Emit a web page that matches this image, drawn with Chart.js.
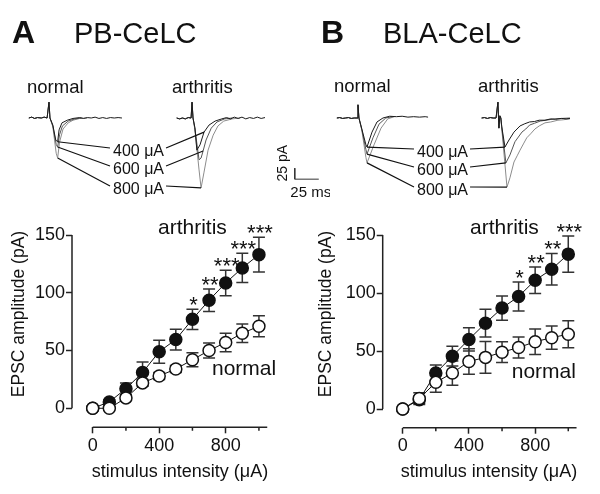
<!DOCTYPE html>
<html>
<head>
<meta charset="utf-8">
<script src="https://cdn.jsdelivr.net/npm/chart.js@4.4.0/dist/chart.umd.min.js"></script>
<style>
    body { margin: 0; background: #fff; }
    #fig { position: relative; width: 600px; height: 494px; overflow: hidden; }
    canvas { position: absolute; }
</style>
</head>
<body>
<div id="fig">
    <canvas id="tracesA" width="330" height="202" style="left:0;top:0"></canvas>
    <canvas id="tracesB" width="300" height="202" style="left:300px;top:0"></canvas>
    <canvas id="plotA" width="300" height="292" style="left:0;top:202px"></canvas>
    <canvas id="plotB" width="300" height="292" style="left:300px;top:202px"></canvas>
</div>
<script>
const FONT = '"Liberation Sans", Arial, Helvetica, sans-serif';

// stimulus intensities (uA) and EPSC amplitudes (pA), mean and SEM
const stimulus = [0, 100, 200, 300, 400, 500, 600, 700, 800, 900, 1000];
const normalMeanA = [0, 0, 9, 22, 28, 34, 42, 50, 57, 65, 71];
const normalSemA = [0, 1, 2, 3, 3, 3, 6, 6.5, 8, 8, 9];
const arthritisMeanA = [0, 5.5, 17, 31, 49, 59.5, 77, 93.5, 108.5, 121.5, 133];
const arthritisSemA = [0, 2, 5, 9, 10, 9, 8.7, 9.7, 11, 12.7, 15];
const starsA = ["", "", "", "", "", "", "*", "**", "***", "***", "***"];

const normalMeanB = [0, 9, 23, 31, 41, 44.5, 49, 53, 58, 61.5, 64.5];
const normalSemB = [0, 5, 8.5, 10.5, 11, 13.6, 9, 9, 11, 10, 11.6];
const arthritisMeanB = [0, 8, 31, 45.5, 60, 74, 87, 97, 111, 120.5, 133.5];
const arthritisSemB = [0, 3, 7, 8.5, 10, 12, 10.4, 12.5, 11.5, 13.6, 15.7];
const starsB = ["", "", "", "", "", "", "", "*", "**", "**", "***"];

const yTicks = [0, 50, 100, 150];
const xTicks = [0, 400, 800];
const xMinorTicks = [200, 600, 1000];
const xAxisEnd = 1050;

// example traces: [time (ms) from stimulus, current (pA)]
const currents = ["400 \u03bcA", "600 \u03bcA", "800 \u03bcA"];
const traceColors = ["#1a1a1a", "#555", "#8c8c8c"];

const baseNormalA = [[-21, 0], [-18, 2], [-15, -1], [-12, 1], [-8, 0], [-5, 2], [-2, 0], [0, 36], [1, 0]];
const normalA400 = [[4, -16], [7, -50], [9, -54], [10.5, -27], [13.5, -11], [19, -5], [25, -1], [32, 1], [36, -1], [40, 1], [44, 0], [48, 2], [52, -1], [56, 1], [60, -1], [64, 1], [68, 0], [72, 1], [76, 0]];
const normalA600 = [[4, -18], [7.5, -60], [9, -66], [11, -38], [14, -18], [20, -7], [27, -2], [34, 0]];
const normalA800 = [[4, -20], [7.5, -80], [9, -91], [11, -55], [14.6, -25], [20, -11], [25, -5], [32, -1], [40, 0]];

const baseArthritisA = [[-16, 0], [-13, -2], [-10, 0], [-7, -2], [-4, 1], [-1, 0], [0, 36], [1, 0]];
const arthritisA400 = [[3, -22], [5, -73], [8.3, -61], [12.5, -32], [17.7, -16], [24, -7], [31, -2], [36, 1], [40, -2], [44, 2], [48, -1], [52, 2], [56, -2], [60, 1], [64, -1], [68, 2], [72, -1], [76, 1]];
const arthritisA600 = [[3, -25], [7.3, -95], [9.4, -91], [11.5, -75], [14.6, -50], [20, -23], [26, -9], [34, -2], [42, 0]];
const arthritisA800 = [[3, -27], [7.3, -118], [9.4, -159], [12.5, -123], [16.7, -73], [22, -39], [27, -18], [33, -7], [42, -2], [50, 0]];
const arthritisHitA = [3, 3, 2];

const baseNormalB = [[-22, 0], [-19, 1], [-16, -1], [-13, 0], [-10, 1], [-7, -1], [-4, 0], [-1, 0], [0, 30], [1, 0]];
const normalB400 = [[4, -25], [8.3, -61], [9.4, -66], [14.6, -32], [19.8, -9], [26, 0], [33, 4], [40, 3], [46, 4], [52, 2], [58, 3], [64, 2], [70, 3], [73, 2]];
const normalB600 = [[4, -26], [8.3, -72], [9.4, -82], [15.6, -45], [21.9, -14], [29, 0], [36, 3]];
const normalB800 = [[4, -28], [8.3, -90], [9.4, -102], [16.7, -61], [24, -23], [31, -2], [38, 3]];

const baseArthritisB = [[-17, 0], [-14, 1], [-11, -1], [-8, 1], [-5, 0], [-2, 0], [0, 36], [1, -23], [2, 5], [3, 0]];
const arthritisB400 = [[4, -20], [7.3, -66], [11.5, -50], [16.7, -32], [23, -18], [28, -13], [33, -9], [38, -8], [43, -5], [49, -5], [55, -2], [60, -3], [66, -1], [71, -2], [75, -1]];
const arthritisB600 = [[4, -22], [8.3, -102], [12.5, -84], [17.7, -54], [25, -32], [29, -25], [33, -16], [38, -12], [44, -7], [50, -5], [59, -2], [66, -1], [75, 0]];
const arthritisB800 = [[4, -25], [9.4, -157], [12.5, -136], [16.7, -100], [20, -86], [23, -73], [27, -57], [30, -45], [34, -36], [38.5, -25], [43, -18], [49, -11], [55, -9], [62.5, -5], [68, -4], [75, -2]];
const arthritisHitB = [1, 1, 1];

const scaleBarMs = 25;
const scaleBarPA = 25;

function text(ctx, s, x, y, size, align, bold) {
    ctx.font = `${bold ? "bold " : ""}${size}px ${FONT}`;
    ctx.fillStyle = "#111";
    ctx.textAlign = align || "left";
    ctx.textBaseline = "alphabetic";
    ctx.fillText(s, x, y);
}

function troughIndex(tr) {
    return tr.reduce((best, p, i) => p[1] < tr[best][1] ? i : best, 0);
}

function traceDecor(o) {
    return {
        id: "traceDecor",
        afterDraw(chart) {
            const { ctx, scales: { x, y } } = chart;
            ctx.save();
            text(ctx, o.letter, o.letterX, 43, 32, "left", true);
            text(ctx, o.title, o.titleX, 43, 29);
            text(ctx, "normal", o.normalX, o.headY, 18.5);
            text(ctx, "arthritis", o.arthritisX, o.headY, 18.5);

            ctx.strokeStyle = "#111";
            ctx.lineWidth = 1.2;
            currents.forEach((c, i) => {
                const mid = o.labelMid[i];
                ctx.font = `16px ${FONT}`;
                const w = ctx.measureText(c).width;
                text(ctx, c, o.labelLeft, mid + 5.5, 16);
                const n = o.normal[i][troughIndex(o.normal[i])];
                const a = o.arthritis[i][o.hits[i]];
                ctx.beginPath();
                ctx.moveTo(x.getPixelForValue(n[0]), y.getPixelForValue(n[1]));
                ctx.lineTo(o.labelLeft - 3, mid - 2);
                ctx.moveTo(o.labelLeft + w + 2, mid - 2);
                ctx.lineTo(x.getPixelForValue(a[0] + o.offset), y.getPixelForValue(a[1]));
                ctx.stroke();
            });

            if (o.scaleBar) {
                const bx = x.getPixelForValue(o.scaleBar[0]);
                const by = y.getPixelForValue(o.scaleBar[1]);
                const bt = y.getPixelForValue(o.scaleBar[1] + scaleBarPA);
                const br = x.getPixelForValue(o.scaleBar[0] + scaleBarMs);
                text(ctx, scaleBarMs + " ms", (bx + br) / 2 + 4, by + 18, 15, "center");
                ctx.save();
                ctx.translate(bx - 8, bt - 5);
                ctx.rotate(-Math.PI / 2);
                text(ctx, scaleBarPA + " pA", 0, 0, 14, "center");
                ctx.restore();
            }
            ctx.restore();
        }
    };
}

function traceSet(points, offset, color) {
    return {
        data: points.map(p => ({ x: p[0] + offset, y: p[1] })),
        showLine: true,
        borderColor: color,
        borderWidth: 1,
        pointRadius: 0,
        tension: 0,
        clip: false
    };
}

function traceChart(id, o) {
    const datasets = [];
    o.normal.forEach((tr, i) => datasets.push(traceSet(o.normalBase.concat(tr), 0, traceColors[i])));
    o.arthritis.forEach((tr, i) => datasets.push(traceSet(o.arthritisBase.concat(tr), o.offset, traceColors[i])));
    if (o.scaleBar) {
        const [t0, i0] = o.scaleBar;
        datasets.push({
            data: [{ x: t0, y: i0 + scaleBarPA }, { x: t0, y: i0 }, { x: t0 + scaleBarMs, y: i0 }],
            showLine: true, borderColor: "#333", borderWidth: 1, pointRadius: 0, tension: 0, clip: false
        });
    }
    new Chart(document.getElementById(id), {
        type: "scatter",
        data: { datasets },
        options: {
            responsive: false,
            animation: false,
            devicePixelRatio: 1,
            layout: { padding: 0 },
            plugins: { legend: { display: false }, tooltip: { enabled: false } },
            scales: {
                x: { type: "linear", display: false, min: o.xMin, max: o.xMax },
                y: { type: "linear", display: false, min: -190.9, max: 268.2 }
            }
        },
        plugins: [traceDecor(o)]
    });
}

function plotDecor(o) {
    return {
        id: "plotDecor",
        beforeDatasetsDraw(chart) {
            const { ctx, chartArea, scales: { x, y } } = chart;
            ctx.save();
            ctx.strokeStyle = "#222";
            ctx.lineWidth = 1.5;
            ctx.beginPath();
            ctx.moveTo(chartArea.left, y.getPixelForValue(0));
            ctx.lineTo(chartArea.left, y.getPixelForValue(yTicks[yTicks.length - 1]));
            ctx.moveTo(x.getPixelForValue(0), chartArea.bottom);
            ctx.lineTo(x.getPixelForValue(xAxisEnd), chartArea.bottom);
            xMinorTicks.forEach(v => {
                const px = x.getPixelForValue(v);
                ctx.moveTo(px, chartArea.bottom);
                ctx.lineTo(px, chartArea.bottom + 3.5);
            });
            ctx.stroke();

            ctx.strokeStyle = "#333";
            [[o.normal, o.normalSem], [o.arthritis, o.arthritisSem]].forEach(([m, e]) => {
                stimulus.forEach((s, i) => {
                    if (!e[i]) return;
                    const px = x.getPixelForValue(s);
                    const top = y.getPixelForValue(m[i] + e[i]);
                    const bot = y.getPixelForValue(m[i] - e[i]);
                    ctx.beginPath();
                    ctx.moveTo(px, top); ctx.lineTo(px, bot);
                    ctx.moveTo(px - 6, top); ctx.lineTo(px + 6, top);
                    ctx.moveTo(px - 6, bot); ctx.lineTo(px + 6, bot);
                    ctx.stroke();
                });
            });
            ctx.restore();
        },
        afterDraw(chart) {
            const { ctx, scales: { x, y } } = chart;
            ctx.save();
            stimulus.forEach((s, i) => {
                if (!o.stars[i]) return;
                const top = y.getPixelForValue(o.arthritis[i] + o.arthritisSem[i]);
                text(ctx, o.stars[i], x.getPixelForValue(s) + 1, top + 3, 22, "center");
            });
            text(ctx, "arthritis", o.arthritisLabel[0], o.arthritisLabel[1], 21);
            text(ctx, "normal", o.normalLabel[0], o.normalLabel[1], 21);
            text(ctx, "stimulus intensity (\u03bcA)", o.xTitleX, 275, 18, "center");
            ctx.save();
            ctx.translate(o.yTitleX, 112);
            ctx.rotate(-Math.PI / 2);
            ctx.textBaseline = "middle";
            ctx.font = `17.5px ${FONT}`;
            ctx.fillStyle = "#111";
            ctx.textAlign = "center";
            ctx.fillText("EPSC amplitude (pA)", 0, 0);
            ctx.restore();
            ctx.restore();
        }
    };
}

function plotChart(id, o) {
    const tickFont = { family: FONT, size: 18 };
    new Chart(document.getElementById(id), {
        type: "line",
        data: {
            datasets: [{
                data: stimulus.map((s, i) => ({ x: s, y: o.normal[i] })),
                borderColor: "#111", borderWidth: 1, tension: 0, clip: false,
                pointRadius: 6, pointBackgroundColor: "#fff", pointBorderColor: "#111", pointBorderWidth: 1.5
            }, {
                data: stimulus.map((s, i) => ({ x: s, y: o.arthritis[i] })),
                borderColor: "#111", borderWidth: 1, tension: 0, clip: false,
                pointRadius: 6, pointBackgroundColor: "#111", pointBorderColor: "#111", pointBorderWidth: 1.5
            }]
        },
        options: {
            responsive: false,
            animation: false,
            devicePixelRatio: 1,
            layout: { padding: { top: 33, right: o.padRight, left: 0, bottom: 0 } },
            plugins: { legend: { display: false }, tooltip: { enabled: false } },
            scales: {
                x: {
                    type: "linear", min: o.xMin, max: 1060, bounds: "data",
                    afterBuildTicks: s => { s.ticks = xTicks.map(v => ({ value: v })); },
                    afterFit: s => { s.height = o.xAxisHeight; },
                    grid: { drawOnChartArea: false, tickLength: 6, tickWidth: 1.5, tickColor: "#222" },
                    border: { display: false },
                    ticks: { font: tickFont, color: "#111", padding: 2, maxRotation: 0, autoSkip: false }
                },
                y: {
                    type: "linear", min: o.yMin, max: 150, bounds: "data",
                    afterBuildTicks: s => { s.ticks = yTicks.map(v => ({ value: v })); },
                    afterFit: s => { s.width = o.yAxisWidth; },
                    grid: { drawOnChartArea: false, tickLength: 6, tickWidth: 1.5, tickColor: "#222" },
                    border: { display: false },
                    ticks: { font: tickFont, color: "#111", padding: 1, autoSkip: false }
                }
            }
        },
        plugins: [plotDecor(o)]
    });
}

traceChart("tracesA", {
    letter: "A", letterX: 12, title: "PB-CeLC", titleX: 74,
    normalX: 27, arthritisX: 172, headY: 93,
    normalBase: baseNormalA, normal: [normalA400, normalA600, normalA800],
    arthritisBase: baseArthritisA, arthritis: [arthritisA400, arthritisA600, arthritisA800],
    hits: arthritisHitA, offset: 149,
    labelLeft: 113, labelMid: [150, 168, 188],
    xMin: -51.04, xMax: 292.7,
    scaleBar: [256, -139]
});

traceChart("tracesB", {
    letter: "B", letterX: 21, title: "BLA-CeLC", titleX: 83,
    normalX: 34, arthritisX: 178, headY: 92,
    normalBase: baseNormalB, normal: [normalB400, normalB600, normalB800],
    arthritisBase: baseArthritisB, arthritis: [arthritisB400, arthritisB600, arthritisB800],
    hits: arthritisHitB, offset: 145.8,
    labelLeft: 117, labelMid: [151, 169, 189],
    xMin: -60.4, xMax: 252.1
});

plotChart("plotA", {
    normal: normalMeanA, normalSem: normalSemA,
    arthritis: arthritisMeanA, arthritisSem: arthritisSemA, stars: starsA,
    xMin: -124.5, padRight: 31.1, yMin: -16.45, yAxisWidth: 72, xAxisHeight: 66.7,
    arthritisLabel: [158, 31.5], normalLabel: [212, 173], xTitleX: 180, yTitleX: 19
});

plotChart("plotB", {
    normal: normalMeanB, normalSem: normalSemB,
    arthritis: arthritisMeanB, arthritisSem: arthritisSemB, stars: starsB,
    xMin: -120.8, padRight: 21.8, yMin: -16.1, yAxisWidth: 82.7, xAxisHeight: 66.3,
    arthritisLabel: [170, 32], normalLabel: [211.7, 176], xTitleX: 189, yTitleX: 26
});
</script>
</body>
</html>
